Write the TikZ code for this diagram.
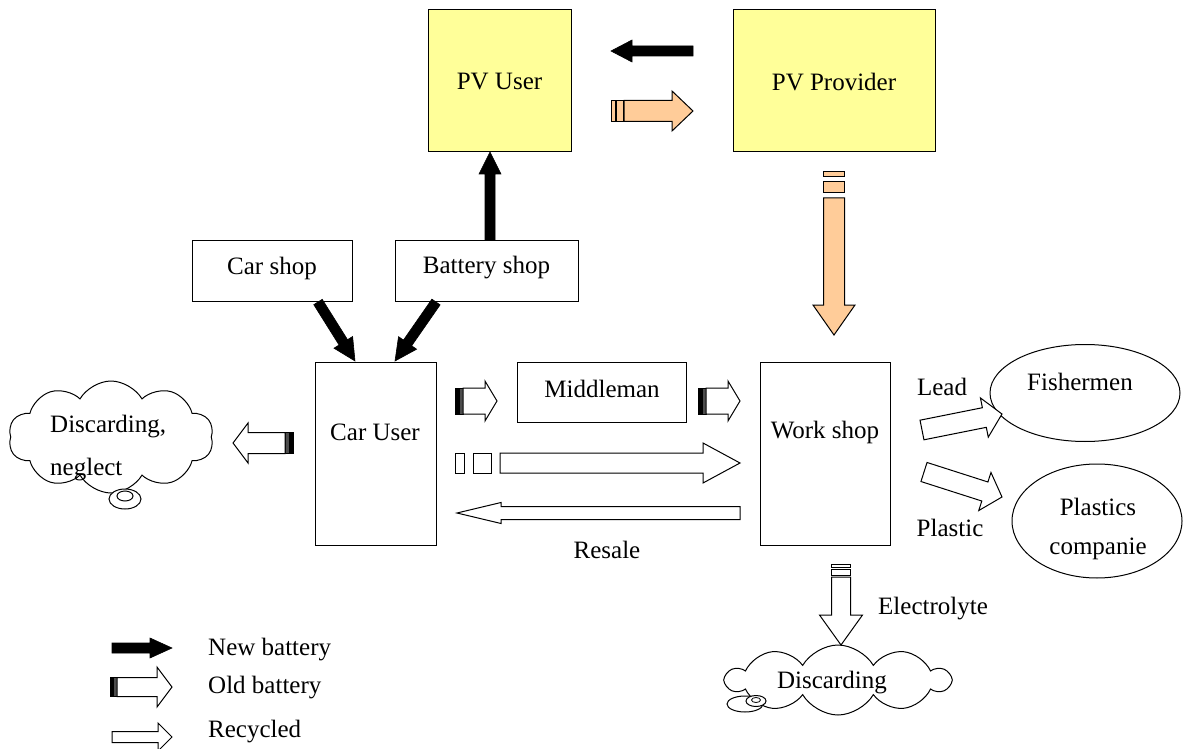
\documentclass[tikz,border=0pt]{standalone}
\usepackage{fontspec}
\setmainfont{Liberation Serif}
\usetikzlibrary{calc,shapes.geometric,shapes.symbols}
\definecolor{pvyellow}{HTML}{FFFF99}
\definecolor{orng}{HTML}{FFCC99}
% block arrow: style, from, to, start offset, shaft half width, head half width, head length
\newcommand\blk[7]{%
  \draw[#1] let \p1=(#2), \p2=(#3), \n1={atan2(\y2-\y1,\x2-\x1)}, \n2={veclen(\x2-\x1,\y2-\y1)} in
  [shift={(\p1)}, rotate=\n1] (#4,-#5) -- ({\n2-#7},-#5) -- ({\n2-#7},-#6) -- (\n2,0) -- ({\n2-#7},#6) -- ({\n2-#7},#5) -- (#4,#5) -- cycle;}
% stripe: style, from, to, s0, s1, half width
\newcommand\seg[6]{%
  \draw[#1] let \p1=(#2), \p2=(#3), \n1={atan2(\y2-\y1,\x2-\x1)} in
  [shift={(\p1)}, rotate=\n1] (#4,-#6) -- (#5,-#6) -- (#5,#6) -- (#4,#6) -- cycle;}
\begin{document}
\begin{tikzpicture}[x=1pt,y=-1pt,
  every node/.style={font=\fontsize{25}{29}\selectfont, inner sep=0pt},
  box/.style={draw, line width=1pt, fill=white},
  pvbox/.style={draw, line width=1pt, fill=pvyellow},
  oval/.style={draw, line width=1pt, ellipse},
  cloudy/.style={draw, line width=1pt, cloud, cloud puffs=10, cloud puff arc=120},
  newarr/.style={fill=black, draw=black, line width=0.6pt},
  oldarr/.style={fill=white, draw=black, line width=1pt},
  recarr/.style={fill=white, draw=black, line width=1pt},
  orarr/.style={fill=orng, draw=black, line width=1pt},
  stripeblk/.style={fill=black, draw=black, line width=0.8pt},
  stripegry/.style={fill=black!70, draw=black, line width=0.8pt},
  stripewht/.style={fill=white, draw=black, line width=1pt},
  stripeor/.style={fill=orng, draw=black, line width=1pt}]
\useasboundingbox (0,0) rectangle (1184,749);

% boxes
\node[pvbox, minimum width=143, minimum height=142] (pvu) at (499.5,81) {};
\node (pvut) at (499.5,82) {PV User};
\node[pvbox, minimum width=202, minimum height=142] (pvp) at (834,81) {};
\node (pvpt) at (834,82) {PV Provider};
\node[box, minimum width=160, minimum height=61] (cs) at (272,270.5) {};
\node (cst) at (272,268) {Car shop};
\node[box, minimum width=183, minimum height=61] (bs) at (486.5,270.5) {};
\node (bst) at (486.5,268) {Battery shop};
\node[box, minimum width=121, minimum height=183] (cu) at (375.5,453.5) {};
\node (cut) at (375,432) {Car User};
\node[box, minimum width=169, minimum height=60] (mm) at (601.5,392) {};
\node (mmt) at (602,389) {Middleman};
\node[box, minimum width=130, minimum height=183] (ws) at (825,453.5) {};
\node (wst) at (825,432) {Work shop};
\node[oval, minimum width=190, minimum height=97] (fi) at (1085,393) {};
\node (fit) at (1080,382) {Fishermen};
\node[oval, minimum width=170, minimum height=114] (pc) at (1097,521) {};
\node (pct1) at (1098,507) {Plastics};
\node (pct2) at (1098,549) {companie};

% clouds
\node[cloudy, minimum width=205, minimum height=112] (cl1) at (111,437) {};
\node[anchor=west] (cl1a) at (50,427) {Discarding,};
\node[anchor=west] (cl1b) at (50,470) {neglect};
\draw[line width=1pt, fill=white] (125,499) ellipse [x radius=16, y radius=10];
\draw[line width=1pt] (125,496) ellipse [x radius=8, y radius=5];
\node[cloudy, minimum width=223, minimum height=70] (cl2) at (838,680) {};
\node (cl2t) at (832,683) {Discarding};
\draw[line width=1pt, fill=white] (745,704) ellipse [x radius=18, y radius=8];
\draw[line width=1pt, fill=white] (756,701) ellipse [x radius=10, y radius=5.5];
\draw[line width=0.8pt] (756,700) ellipse [x radius=4.5, y radius=2.5];

% labels
\node (lead) at (942,387) {Lead};
\node (plas) at (950,528) {Plastic};
\node (resl) at (607,550) {Resale};
\node[anchor=west] (elec) at (878,609) {Electrolyte};

% arrow coordinates
\coordinate (a1s) at (693,51);  \coordinate (a1e) at (611,51);
\coordinate (a2s) at (611,111); \coordinate (a2e) at (693,111);
\coordinate (a3s) at (834,172); \coordinate (a3e) at (834,335);
\coordinate (a4s) at (490,240); \coordinate (a4e) at (490,152);
\coordinate (a5s) at (318,302); \coordinate (a5e) at (355,361);
\coordinate (a6s) at (436,302); \coordinate (a6e) at (395,361);
\coordinate (a7s) at (455,401); \coordinate (a7e) at (497,401);
\coordinate (a8s) at (698,401); \coordinate (a8e) at (740,401);
\coordinate (a9s) at (455,463); \coordinate (a9e) at (740,463);
\coordinate (a10s) at (740,513); \coordinate (a10e) at (457,513);
\coordinate (a11s) at (293,443); \coordinate (a11e) at (233,443);
\coordinate (a12s) at (922,430); \coordinate (a12e) at (1002,414);
\coordinate (a13s) at (924,472); \coordinate (a13e) at (1002,497);
\coordinate (a14s) at (841,564); \coordinate (a14e) at (841,645);
\coordinate (l1s) at (112,648); \coordinate (l1e) at (172,648);
\coordinate (l2s) at (110,687); \coordinate (l2e) at (172,687);
\coordinate (l3s) at (112,737); \coordinate (l3e) at (172,737);

% new battery arrows
\blk{newarr}{a1s}{a1e}{0}{5}{11}{21}
\blk{newarr}{a4s}{a4e}{0}{5}{11}{22}
\blk{newarr}{a5s}{a5e}{0}{5}{11}{22}
\blk{newarr}{a6s}{a6e}{0}{5}{11}{22}
\blk{newarr}{l1s}{l1e}{0}{5}{10}{22}

% orange old battery arrows
\seg{stripeor}{a2s}{a2e}{0}{4}{10.5}
\seg{stripeor}{a2s}{a2e}{5.5}{12}{10.5}
\blk{orarr}{a2s}{a2e}{13}{10.5}{20}{21}
\seg{stripeor}{a3s}{a3e}{0}{5}{10.5}
\seg{stripeor}{a3s}{a3e}{10}{21}{10.5}
\blk{orarr}{a3s}{a3e}{26}{10.5}{21}{30}

% black/white old battery arrows
\seg{stripeblk}{a7s}{a7e}{0}{3}{13}
\seg{stripegry}{a7s}{a7e}{4}{8}{13}
\blk{oldarr}{a7s}{a7e}{8}{13}{20}{12}
\seg{stripeblk}{a8s}{a8e}{0}{3}{13}
\seg{stripegry}{a8s}{a8e}{4}{8}{13}
\blk{oldarr}{a8s}{a8e}{8}{13}{20}{12}
\seg{stripeblk}{a11s}{a11e}{0}{3}{10.5}
\seg{stripegry}{a11s}{a11e}{4}{8}{10.5}
\blk{oldarr}{a11s}{a11e}{8}{10.5}{20}{15}
\seg{stripeblk}{l2s}{l2e}{0}{2}{9.5}
\seg{stripegry}{l2s}{l2e}{3}{7}{9.5}
\blk{oldarr}{l2s}{l2e}{7}{9.5}{20}{15}
\seg{stripewht}{a14s}{a14e}{0}{3}{9.5}
\seg{stripewht}{a14s}{a14e}{5}{11}{9.5}
\blk{oldarr}{a14s}{a14e}{13}{9.5}{21.5}{30}

% recycled arrows
\seg{stripewht}{a9s}{a9e}{0}{9}{10}
\seg{stripewht}{a9s}{a9e}{18}{36}{10}
\blk{recarr}{a9s}{a9e}{45}{10}{20}{37}
\blk{recarr}{a10s}{a10e}{0}{6.5}{10.5}{44}
\blk{recarr}{a12s}{a12e}{0}{10}{20}{18}
\blk{recarr}{a13s}{a13e}{0}{10}{20}{18}
\blk{recarr}{l3s}{l3e}{0}{5.5}{14}{14}

% legend text
\node[anchor=west] (lg1) at (208,650) {New battery};
\node[anchor=west] (lg2) at (208,688) {Old battery};
\node[anchor=west] (lg3) at (208,732) {Recycled};
\end{tikzpicture}
\end{document}
